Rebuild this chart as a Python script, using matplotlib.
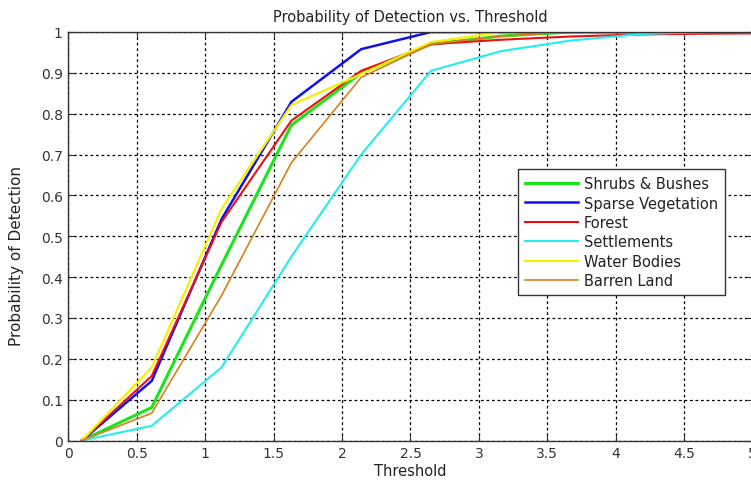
import matplotlib
matplotlib.use("Agg")
import matplotlib.pyplot as plt
import numpy as np

# threshold points and detection probability per land class
threshold = [0.1, 0.61, 1.12, 1.63, 2.14, 2.65, 3.16, 3.67, 4.18, 4.69, 5.2]
shrubs = [0, 0.081, 0.43, 0.772, 0.90, 0.97, 0.99, 1.0, 1.0, 1.0, 1.0]
sparse = [0, 0.146, 0.542, 0.829, 0.958, 1.0, 1.0, 1.0, 1.0, 1.0, 1.0]
forest = [0, 0.158, 0.535, 0.783, 0.905, 0.97, 0.981, 0.989, 0.994, 0.996, 0.997]
settlements = [0, 0.036, 0.179, 0.45, 0.70, 0.905, 0.953, 0.979, 0.995, 1.0, 1.0]
water = [0, 0.179, 0.567, 0.821, 0.897, 0.975, 1.0, 1.0, 1.0, 1.0, 1.0]
barren = [0, 0.067, 0.355, 0.68, 0.889, 0.97, 0.99, 1.0, 1.0, 1.0, 1.0]

labels = ['Shrubs & Bushes', 'Sparse Vegetation', 'Forest',
          'Settlements', 'Water Bodies', 'Barren Land']
colors = ['#19e619', '#1010ee', '#ee1010', '#22eeee', '#f5f000', '#d9801e']
widths = [2.2, 1.8, 1.5, 1.5, 1.6, 1.2]

plt.rcParams['font.family'] = ['DejaVu Sans']

fig = plt.figure(figsize=(7.51, 4.81), dpi=100)
ax = fig.add_axes([0.0909, 0.0821, 0.9113, 0.8493])

series = [shrubs, sparse, forest, settlements, water, barren]
for vals, lab, col, lw in zip(series, labels, colors, widths):
    ax.plot(threshold, vals, color=col, linewidth=lw, label=lab)

ax.set_xlim(0, 5)
ax.set_ylim(0, 1)
ax.set_xticks(np.arange(0, 5.01, 0.5))
ax.set_xticklabels(['0', '0.5', '1', '1.5', '2', '2.5', '3', '3.5', '4', '4.5', '5'])
ax.set_yticks(np.arange(0, 1.01, 0.1))
ax.set_yticklabels(['0', '0.1', '0.2', '0.3', '0.4', '0.5', '0.6', '0.7', '0.8', '0.9', '1'])
ax.tick_params(direction='in', length=4, top=True, right=True, labelsize=10,
               colors='#333333', pad=4)
for sp in ax.spines.values():
    sp.set_color('#333333')
    sp.set_linewidth(1.0)

ax.grid(True, color='black', linestyle=(0, (2.2, 2.2)), linewidth=0.9)

ax.set_title('Probability of Detection vs. Threshold', fontsize=10.5, color='#222222', pad=8)
ax.set_xlabel('Threshold', fontsize=10.5, color='#222222', labelpad=2)
ax.set_ylabel('Probability of Detection', fontsize=11, color='#222222')
ax.yaxis.set_label_coords(-0.065, 0.454)

leg = ax.legend(loc='upper left', bbox_to_anchor=(0.657, 0.665), fontsize=10.5,
                handlelength=3.6, handletextpad=0.4, frameon=True, fancybox=False,
                framealpha=1, borderaxespad=0, labelspacing=0.3, borderpad=0.5)
leg.get_frame().set_edgecolor('#333333')
leg.get_frame().set_linewidth(1.0)
for t in leg.get_texts():
    t.set_color('#222222')

fig.savefig('out.png', dpi=100)
